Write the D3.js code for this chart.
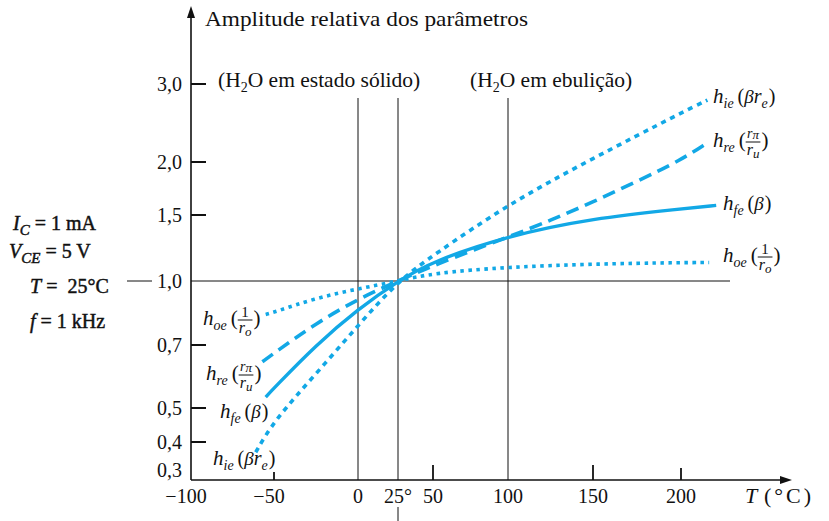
<!DOCTYPE html>
<html><head><meta charset="utf-8">
<script src="https://cdn.jsdelivr.net/npm/d3@7"></script>
<style>
body{margin:0;background:#fff}
text{font-family:"Liberation Serif","Times New Roman",serif;fill:#111}
</style>
</head><body>
<svg id="chart" width="829" height="521"></svg>
<script>
// ---------- data ----------
const yTickValues = [0.3, 0.4, 0.5, 0.7, 1.0, 1.5, 2.0, 3.0];
const yTickLabels = ["0,3", "0,4", "0,5", "0,7", "1,0", "1,5", "2,0", "3,0"];
const xTickValues = [-100, -50, 0, 25, 50, 100, 150, 200];
const xTickLabels = ["−100", "−50", "0", "25°", "50", "100", "150", "200"];

const hieT = [-61, -50, -25, 0, 25, 50, 100, 150, 200, 215];
const hieV = [0.36, 0.46, 0.60, 0.78, 1.0, 1.17, 1.59, 2.04, 2.58, 2.76];
const hreT = [-57, -50, -25, 0, 25, 50, 100, 125, 150, 175, 200, 215];
const hreV = [0.64, 0.67, 0.79, 0.905, 1.0, 1.10, 1.31, 1.45, 1.61, 1.80, 2.02, 2.21];
const hfeT = [-55, -50, -25, 0, 25, 50, 100, 150, 200, 220];
const hfeV = [0.53, 0.556, 0.70, 0.855, 1.0, 1.13, 1.32, 1.47, 1.55, 1.58];
const hoeT = [-55, -50, -25, 0, 25, 50, 100, 150, 200, 216];
const hoeV = [0.83, 0.84, 0.91, 0.957, 1.0, 1.05, 1.09, 1.11, 1.12, 1.12];

const conditions = [
  {sym: "I", sub: "C", rest: " = 1 mA"},
  {sym: "V", sub: "CE", rest: " = 5 V"},
  {sym: "T", sub: "", rest: " =\u00a0 25°C"},
  {sym: "f", sub: "", rest: " = 1 kHz"}
];
const title = "Amplitude relativa dos parâmetros";

// ---------- layout ----------
const svg = d3.select("#chart");
const BLUE = "#12a8e6";
const x = d3.scaleLinear().domain(xTickValues).range([191, 274, 358, 398, 433, 508, 593, 681]);
const y = d3.scaleLog().domain(yTickValues).range([470, 442, 408, 345, 281, 215, 162, 84]);
const axisX = x(-100), axisY = 480;

// axes lines
svg.append("line").attr("x1", axisX).attr("x2", axisX).attr("y1", axisY).attr("y2", 14)
  .attr("stroke", "#111").attr("stroke-width", 1.6);
svg.append("path").attr("d", `M${axisX},6 L${axisX-4},18 L${axisX+4},18 Z`).attr("fill", "#111");
svg.append("line").attr("x1", axisX).attr("x2", 782).attr("y1", axisY).attr("y2", axisY)
  .attr("stroke", "#111").attr("stroke-width", 1.6);
svg.append("path").attr("d", `M792,${axisY} L780,${axisY-4} L780,${axisY+4} Z`).attr("fill", "#111");

// y ticks
const yt = svg.append("g");
yTickValues.forEach((v, i) => {
  if (v !== 0.3 && v !== 1.0) {
    yt.append("line").attr("x1", axisX).attr("x2", axisX + 15).attr("y1", y(v)).attr("y2", y(v))
      .attr("stroke", "#111").attr("stroke-width", 2);
  }
  yt.append("text").attr("x", 182).attr("y", y(v)).attr("dy", "0.35em")
    .attr("text-anchor", "end").attr("font-size", 20).text(yTickLabels[i]);
});
// reference line at 1.0
svg.append("line").attr("x1", axisX).attr("x2", 730).attr("y1", y(1)).attr("y2", y(1))
  .attr("stroke", "#111").attr("stroke-width", 1);
svg.append("line").attr("x1", 127).attr("x2", 152).attr("y1", y(1)).attr("y2", y(1))
  .attr("stroke", "#111").attr("stroke-width", 1);

// x ticks
const xt = svg.append("g");
xTickValues.forEach((v, i) => {
  const h = {"-50": 8, "50": 15, "150": 15, "200": 12}[v];
  if (h) xt.append("line").attr("x1", x(v)).attr("x2", x(v)).attr("y1", axisY).attr("y2", axisY - h)
    .attr("stroke", "#111").attr("stroke-width", 1.8);
  xt.append("text").attr("x", x(v) - (v < 0 ? 5 : 0)).attr("y", 503).attr("text-anchor", "middle")
    .attr("font-size", 20).text(xTickLabels[i]);
});
// vertical reference lines
[0, 25, 100].forEach(v => {
  svg.append("line").attr("x1", x(v)).attr("x2", x(v)).attr("y1", 98).attr("y2", axisY)
    .attr("stroke", "#111").attr("stroke-width", 1);
});
svg.append("line").attr("x1", x(25)).attr("x2", x(25)).attr("y1", 507).attr("y2", 521)
  .attr("stroke", "#111").attr("stroke-width", 1);

// axis titles
svg.append("text").attr("x", 205).attr("y", 26).attr("font-size", 21)
  .attr("textLength", 323).attr("lengthAdjust", "spacingAndGlyphs").text(title);
svg.append("text").attr("x", 745).attr("y", 503).attr("font-size", 22)
  .attr("font-style", "italic").text("T");
svg.append("text").attr("x", 764).attr("y", 503).attr("font-size", 22)
  .attr("letter-spacing", 3).text("(°C)");

function h2o(xp, rest) {
  svg.append("text").attr("x", xp).attr("y", 87).attr("font-size", 21.5)
    .html(`(H<tspan font-size="14" dy="5">2</tspan><tspan dy="-5">O ${rest})</tspan>`);
}
h2o(218, "em estado sólido");
h2o(470, "em ebulição");

// conditions block
const condPos = [[13, 230], [9, 258], [30, 293], [30, 328]];
conditions.forEach((c, i) => {
  const t = svg.append("text").attr("x", condPos[i][0]).attr("y", condPos[i][1])
    .attr("font-size", 20).attr("stroke", "#111").attr("stroke-width", 0.45);
  t.append("tspan").attr("font-style", "italic").text(c.sym);
  if (c.sub) {
    t.append("tspan").attr("font-style", "italic").attr("font-size", 15)
      .attr("dy", 5).text(c.sub);
    t.append("tspan").attr("dy", -5).text(c.rest);
  } else t.append("tspan").text(c.rest);
});

// ---------- curves ----------
const line = d3.line().x(d => x(d[0])).y(d => y(d[1])).curve(d3.curveBasis);
const series = [
  {T: hieT, V: hieV, dash: "5,5", w: 3.6},
  {T: hreT, V: hreV, dash: "13,7", w: 3.6},
  {T: hfeT, V: hfeV, dash: null, w: 3.4},
  {T: hoeT, V: hoeV, dash: "3.5,4.5", w: 3.6}
];
series.forEach(s => {
  svg.append("path").datum(d3.zip(s.T, s.V)).attr("d", line)
    .attr("fill", "none").attr("stroke", BLUE).attr("stroke-width", s.w)
    .attr("stroke-dasharray", s.dash);
});

// ---------- curve labels ----------
function piece(g, cx, yb, txt, size, italic) {
  const t = g.append("text").attr("x", cx).attr("y", yb).attr("font-size", size)
    .attr("font-style", italic ? "italic" : "normal").text(txt);
  return cx + t.node().getComputedTextLength();
}
function hLabel(x0, yb, sub, kind) {
  const g = svg.append("g");
  let cx = x0;
  cx = piece(g, cx, yb, "h", 21, true);
  cx = piece(g, cx, yb + 5, sub, 14, true);
  cx += 4;
  if (kind === "beta" || kind === "bre") {
    cx = piece(g, cx, yb, "(", 20, false);
    cx = piece(g, cx, yb, "β", 19, true);
    if (kind === "bre") {
      cx = piece(g, cx, yb, "r", 20, true);
      cx = piece(g, cx, yb + 5, "e", 14, true);
    }
    cx = piece(g, cx + 1, yb, ")", 20, false);
  } else {
    cx = piece(g, cx, yb, "(", 21, false);
    const fx = cx + 1;
    let w;
    if (kind === "pi") {
      const n1 = g.append("text").attr("font-size", 14).attr("font-style", "italic").attr("y", yb - 9);
      n1.append("tspan").text("r");
      n1.append("tspan").attr("font-size", 13).attr("dy", 1).text("π");
      const d1 = g.append("text").attr("font-size", 16).attr("font-style", "italic").attr("y", yb + 8);
      d1.append("tspan").text("r");
      d1.append("tspan").attr("font-size", 13).attr("dy", 3).text("u");
      w = Math.max(n1.node().getComputedTextLength(), d1.node().getComputedTextLength());
      n1.attr("x", fx + (w - n1.node().getComputedTextLength()) / 2);
      d1.attr("x", fx + (w - d1.node().getComputedTextLength()) / 2);
    } else {
      const n1 = g.append("text").attr("font-size", 15).attr("y", yb - 8).text("1");
      const d1 = g.append("text").attr("font-size", 16).attr("font-style", "italic").attr("y", yb + 8);
      d1.append("tspan").text("r");
      d1.append("tspan").attr("font-size", 13).attr("dy", 3).text("o");
      w = Math.max(n1.node().getComputedTextLength(), d1.node().getComputedTextLength());
      n1.attr("x", fx + (w - n1.node().getComputedTextLength()) / 2);
      d1.attr("x", fx + (w - d1.node().getComputedTextLength()) / 2);
    }
    g.append("line").attr("x1", fx - 1).attr("x2", fx + w + 1).attr("y1", yb - 5).attr("y2", yb - 5)
      .attr("stroke", "#111").attr("stroke-width", 1);
    cx = piece(g, fx + w + 2, yb, ")", 21, false);
  }
}
hLabel(713, 103, "ie", "bre");
hLabel(713, 147, "re", "pi");
hLabel(723, 210, "fe", "beta");
hLabel(723, 262, "oe", "one");
hLabel(203, 325, "oe", "one");
hLabel(206, 380, "re", "pi");
hLabel(220, 418, "fe", "beta");
hLabel(213, 465, "ie", "bre");
</script>
</body></html>
